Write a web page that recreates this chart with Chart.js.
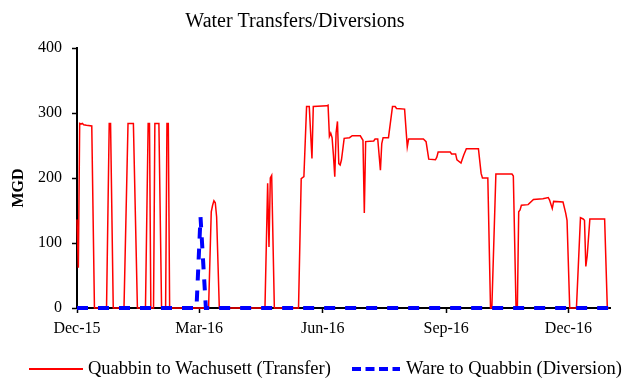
<!DOCTYPE html>
<html>
<head>
<meta charset="utf-8">
<title>Water Transfers/Diversions</title>
<script src="https://cdn.jsdelivr.net/npm/chart.js@4.4.1/dist/chart.umd.min.js"></script>
<style>
  html, body { margin: 0; padding: 0; background: #ffffff; }
  canvas { display: block; }
</style>
</head>
<body>
<canvas id="chart" width="624" height="379"></canvas>
<script>
// Daily flows in MGD; days are counted from 1 Dec 2015 (day 0) to 31 Dec 2016.
const chartTitle = 'Water Transfers/Diversions';
const yAxisTitle = 'MGD';
const seriesNames = ['Quabbin to Wachusett (Transfer)', 'Ware to Quabbin (Diversion)'];

const transferDays = [
  0, 1, 2, 3, 4, 5, 7, 11, 13,
  22, 24, 25, 27,
  35, 38, 42, 45,
  51, 53, 54, 55,
  57, 58, 61, 63,
  66, 67, 68, 69,
  98, 100, 101, 102, 103, 104, 106,
  140, 142, 143, 144, 145, 147,
  165, 167, 169, 171, 173, 175, 176, 186, 187, 188, 189, 190, 191, 192, 193, 194, 195, 196, 197, 199,
  203, 205, 211, 213, 214, 215, 221, 222, 224, 226, 227, 228, 232, 235, 237, 238, 244, 246, 247,
  258, 260, 262, 267, 268, 269, 278, 279, 282, 283, 286, 288, 290, 299, 301, 302, 306, 308, 309,
  312, 324, 325, 327, 328, 329, 330, 331, 336, 340, 347, 351, 352, 354, 355, 362, 364, 365, 367,
  372, 375, 377, 378, 379, 380, 382, 393, 395, 396
];
const transferMGD = [
  136, 62, 284, 283, 284, 282, 281, 280, 0,
  0, 284, 284, 0,
  0, 284, 284, 0,
  0, 284, 284, 0,
  0, 284, 284, 0,
  0, 284, 284, 0,
  0, 148, 158, 165, 162, 140, 0,
  0, 192, 94, 200, 204, 0,
  0, 199, 202, 310, 310, 230, 310, 311, 312, 264, 269, 262, 235, 202, 270, 287, 222, 220, 228, 261,
  262, 265, 265, 258, 146, 256, 257, 260, 260, 212, 253, 262, 262, 310, 310, 307, 306, 248, 260,
  260, 256, 229, 228, 232, 240, 240, 237, 237, 228, 223, 235, 245, 245, 207, 200, 200, 0, 0,
  206, 206, 203, 0, 0, 148, 151, 158, 159, 167, 168, 170, 166, 153, 164, 163, 146, 135, 0,
  0, 139, 137, 135, 64, 80, 137, 137, 0, 0
];

const diversionDays = [0, 89, 92, 96, 396];
const diversionMGD = [0, 0, 140, 0, 0];

const tickDays = [0, 91, 183, 275, 366];
const tickLabels = ['Dec-15', 'Mar-16', 'Jun-16', 'Sep-16', 'Dec-16'];

const toPoints = (days, values) => days.map((d, i) => ({ x: d, y: values[i] }));

const serif = '"Liberation Serif", "Times New Roman", serif';

// Title, rotated axis title and the key below the plot
const annotations = {
  id: 'annotations',
  afterDraw(chart) {
    const ctx = chart.ctx;
    ctx.save();
    ctx.fillStyle = '#000000';

    ctx.font = '20px ' + serif;
    ctx.textAlign = 'center';
    ctx.textBaseline = 'alphabetic';
    ctx.fillText(chartTitle, 295, 27);

    ctx.save();
    ctx.translate(19, 188);
    ctx.rotate(-Math.PI / 2);
    ctx.font = 'bold 16px ' + serif;
    ctx.textBaseline = 'middle';
    ctx.fillText(yAxisTitle, 0, 0);
    ctx.restore();

    const keySlots = [
      { x0: 29, x1: 83, tx: 88 },
      { x0: 352, x1: 400, tx: 406 }
    ];
    chart.data.datasets.forEach((ds, i) => {
      const slot = keySlots[i];
      ctx.beginPath();
      ctx.strokeStyle = ds.borderColor;
      ctx.lineWidth = ds.keyLineWidth;
      ctx.setLineDash(ds.keyDash);
      ctx.moveTo(slot.x0, 369);
      ctx.lineTo(slot.x1, 369);
      ctx.stroke();
      ctx.setLineDash([]);
      ctx.font = '18.5px ' + serif;
      ctx.textAlign = 'left';
      ctx.textBaseline = 'alphabetic';
      ctx.fillText(ds.label, slot.tx, 374);
    });
    ctx.restore();
  }
};

const axisCommon = {
  border: { display: true, color: '#000000', width: 2 },
  grid: {
    display: true,
    drawOnChartArea: false,
    drawTicks: true,
    tickLength: 5,
    tickColor: '#000000',
    tickWidth: 1.5
  }
};

new Chart(document.getElementById('chart'), {
  type: 'line',
  data: {
    datasets: [
      {
        label: seriesNames[0],
        data: toPoints(transferDays, transferMGD),
        borderColor: '#FF0000',
        borderWidth: 1.5,
        pointRadius: 0,
        tension: 0,
        fill: false,
        clip: false,
        order: 1,
        keyLineWidth: 2,
        keyDash: []
      },
      {
        label: seriesNames[1],
        data: toPoints(diversionDays, diversionMGD),
        borderColor: '#0000FF',
        borderWidth: 4,
        borderDash: [11, 10],
        pointRadius: 0,
        tension: 0,
        fill: false,
        clip: false,
        order: 0,
        keyLineWidth: 4,
        keyDash: [9, 4.5]
      }
    ]
  },
  options: {
    responsive: false,
    animation: false,
    devicePixelRatio: 1,
    layout: { padding: { top: 48, right: 14, bottom: 0, left: 0 } },
    plugins: {
      legend: { display: false },
      title: { display: false },
      tooltip: { enabled: false }
    },
    scales: {
      x: {
        type: 'linear',
        min: 0,
        max: 397,
        ...axisCommon,
        afterBuildTicks: (scale) => { scale.ticks = tickDays.map(v => ({ value: v })); },
        afterFit: (scale) => { scale.height = 71; },
        ticks: {
          color: '#000000',
          font: { family: serif, size: 16 },
          padding: 6,
          maxRotation: 0,
          autoSkip: false,
          callback: (value) => {
            const i = tickDays.indexOf(value);
            return i >= 0 ? tickLabels[i] : '';
          }
        }
      },
      y: {
        min: 0,
        max: 400,
        ...axisCommon,
        afterFit: (scale) => { scale.width = 77; },
        ticks: {
          stepSize: 100,
          color: '#000000',
          font: { family: serif, size: 16 },
          padding: 10
        }
      }
    }
  },
  plugins: [annotations]
});
</script>
</body>
</html>
